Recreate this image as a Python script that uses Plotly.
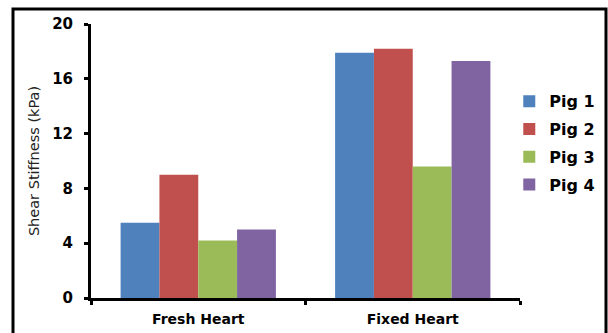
import plotly.graph_objects as go

categories = ["Fresh Heart", "Fixed Heart"]
series_names = ["Pig 1", "Pig 2", "Pig 3", "Pig 4"]
pig1 = [5.5, 17.9]
pig2 = [9.0, 18.2]
pig3 = [4.2, 9.6]
pig4 = [5.0, 17.3]
colors = ["#4F81BD", "#C0504D", "#9BBB59", "#8064A2"]
y_ticks = [0, 4, 8, 12, 16, 20]

FONT = "DejaVu Sans, sans-serif"

fig = go.Figure()
for name, vals, col in zip(series_names, [pig1, pig2, pig3, pig4], colors):
    fig.add_trace(go.Bar(x=categories, y=vals, name=name, marker_color=col,
                         marker_line_width=0, legendgroup=name))

fig.update_layout(
    width=608, height=333,
    margin=dict(l=91, r=88, t=24, b=35, autoexpand=False),
    paper_bgcolor="white", plot_bgcolor="white",
    barmode="group", bargap=0.276, bargroupgap=0,
    font=dict(family=FONT, color="black"),
    legend=dict(x=0.975, xanchor="left", y=0.78, yanchor="top",
                font=dict(size=16, family=FONT, weight="bold"),
                tracegroupgap=4, bgcolor="rgba(0,0,0,0)"),
    showlegend=True,
)
fig.update_xaxes(range=[-0.5, 1.5], showline=True, linecolor="black", linewidth=3,
                 ticks="outside", tickson="boundaries", ticklen=4, tickwidth=3,
                 tickcolor="black", showgrid=False, automargin=False, ticklabelstandoff=6,
                 tickfont=dict(size=14, family=FONT, weight="bold"))
fig.update_yaxes(range=[0, 20], tickvals=y_ticks, showline=True, linecolor="black",
                 linewidth=3, ticks="outside", ticklen=4, tickwidth=3, tickcolor="black",
                 showgrid=False, zeroline=False, automargin=False, ticklabelstandoff=8,
                 tickfont=dict(size=15, family=FONT, weight="bold"),
                 title=dict(text="Shear Stiffness (kPa)",
                            font=dict(size=14.5, family=FONT, color="#222222"),
                            standoff=10))

# outer frame
fig.add_shape(type="rect", xref="paper", yref="paper",
              x0=(13 - 91) / 429, x1=(606 - 91) / 429,
              y0=-0.3, y1=(298 - 9) / 274,
              line=dict(color="black", width=3), fillcolor="rgba(0,0,0,0)", layer="below")

fig.write_html("out.html", config={"displayModeBar": False},
               post_script="document.body.style.margin='0';document.body.style.overflow='hidden';")
